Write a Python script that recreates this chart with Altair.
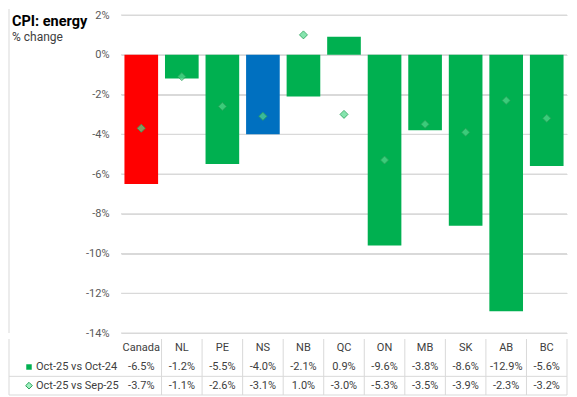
import altair as alt
import pandas as pd

# ---- data -------------------------------------------------------------
title_text = "CPI: energy"
subtitle_text = "% change"
categories = ["Canada", "NL", "PE", "NS", "NB", "QC", "ON", "MB", "SK", "AB", "BC"]
yoy = [-6.5, -1.2, -5.5, -4.0, -2.1, 0.9, -9.6, -3.8, -8.6, -12.9, -5.6]
mom = [-3.7, -1.1, -2.6, -3.1, 1.0, -3.0, -5.3, -3.5, -3.9, -2.3, -3.2]
series_labels = ["Oct-25 vs Oct-24", "Oct-25 vs Sep-25"]
bar_colors = ["#ff0000", "#00b050", "#00b050", "#0070c0", "#00b050", "#00b050",
              "#00b050", "#00b050", "#00b050", "#00b050", "#00b050"]
y_ticks = [-14, -12, -10, -8, -6, -4, -2, 0, 2]

# ---- layout -----------------------------------------------------------
W = 446
H_BAR = 318
H_TAB = 56
LEFT = -112
FONT = "Roboto"
GRID = "#d9d9d9"
TXT = "#404040"
GREEN = "#00b050"

df = pd.DataFrame({"cat": categories, "yoy": yoy, "mom": mom})

xbar = alt.X("cat:N", scale=alt.Scale(domain=categories, paddingInner=0.17, paddingOuter=0.085), axis=None)
yscale_bar = alt.Scale(domain=[y_ticks[0], y_ticks[-1]], nice=False)
yaxis = alt.Axis(values=y_ticks, labelExpr="datum.value + '%'", title=None,
                 grid=True, gridOpacity=1, gridWidth=1, gridColor=GRID, labelOverlap=False,
                 labelFlush=False, ticks=False, domain=False, labelColor="#595959",
                 labelFontSize=11, labelFont=FONT, labelPadding=12)

grid_df = pd.DataFrame({"g": y_ticks})
gridlines = alt.Chart(grid_df).mark_rule(color=GRID, strokeWidth=1).encode(
    y=alt.Y("g:Q", scale=yscale_bar, axis=yaxis))

bars = alt.Chart(df).mark_bar().encode(
    x=xbar, y=alt.Y("yoy:Q", scale=yscale_bar, axis=yaxis),
    color=alt.Color("cat:N", scale=alt.Scale(domain=categories, range=bar_colors), legend=None),
)
points = alt.Chart(df).mark_point(shape="diamond", filled=True, size=64, fill="#52d98c",
                                   fillOpacity=0.7, stroke="#2aa35a", strokeWidth=1,
                                   strokeOpacity=0.8, opacity=1).encode(
    x=xbar, y=alt.Y("mom:Q", scale=yscale_bar, axis=yaxis)
)
tdf = pd.DataFrame({"t": [title_text], "s": [subtitle_text]})
title_mark = alt.Chart(tdf).mark_text(align="left", baseline="alphabetic", font=FONT,
                                      fontSize=14.5, fontWeight="bold", color="#000000").encode(
    text="t:N", x=alt.value(LEFT + 3), y=alt.value(10.5))
sub_mark = alt.Chart(tdf).mark_text(align="left", baseline="alphabetic", font=FONT,
                                    fontSize=12, color="#404040").encode(
    text="s:N", x=alt.value(LEFT + 3), y=alt.value(26))
frame_top = alt.Chart(tdf).mark_rule(color=GRID, strokeWidth=1).encode(
    x=alt.value(LEFT), y=alt.value(-6), y2=alt.value(H_BAR))

top = alt.layer(gridlines, bars, points, title_mark, sub_mark, frame_top).properties(
    width=W, height=H_BAR)

# ---- data table -------------------------------------------------------
rows = []
for i, c in enumerate(categories):
    rows.append({"cat": c, "row": 0.5, "txt": c})
    rows.append({"cat": c, "row": 1.5, "txt": f"{yoy[i]:.1f}%"})
    rows.append({"cat": c, "row": 2.5, "txt": f"{mom[i]:.1f}%"})
tab = pd.DataFrame(rows)

xs_tab = alt.Scale(domain=categories, paddingInner=0, paddingOuter=0)
yscale = alt.Scale(domain=[0, 3], reverse=True, nice=False, zero=False)

cells = alt.Chart(tab).mark_text(font=FONT, fontSize=11, color=TXT, baseline="middle").encode(
    x=alt.X("cat:N", scale=xs_tab, axis=None),
    y=alt.Y("row:Q", scale=yscale, axis=None), text="txt:N")

vdf = pd.DataFrame({"cat": categories, "r0": [0] * len(categories), "r1": [3] * len(categories)})
vlines = alt.Chart(vdf).mark_rule(color=GRID, strokeWidth=1).encode(
    x=alt.X("cat:N", scale=xs_tab, axis=None, bandPosition=1),
    y=alt.Y("r0:Q", scale=yscale, axis=None), y2="r1:Q")

hl = pd.DataFrame({"y": [2, 3]})
hlines = alt.Chart(hl).mark_rule(color=GRID, strokeWidth=1).encode(
    y=alt.Y("y:Q", scale=yscale, axis=None), x=alt.value(LEFT), x2=alt.value(W))
fdf = pd.DataFrame({"r0": [0], "r1": [3]})
frame_tab = alt.Chart(fdf).mark_rule(color=GRID, strokeWidth=1).encode(
    x=alt.value(LEFT), y=alt.Y("r0:Q", scale=yscale, axis=None), y2="r1:Q")

lab = pd.DataFrame({"row": [1.5, 2.5], "lbl": series_labels})
row_labels = alt.Chart(lab).mark_text(align="left", baseline="middle", font=FONT,
                                      fontSize=11, color=TXT).encode(
    x=alt.value(-85), y=alt.Y("row:Q", scale=yscale, axis=None), text="lbl:N")
sym1 = alt.Chart(lab.head(1)).mark_point(shape="square", filled=True, size=30,
                                          color=GREEN, opacity=1).encode(
    x=alt.value(-92), y=alt.Y("row:Q", scale=yscale, axis=None))
sym2 = alt.Chart(lab.tail(1)).mark_point(shape="diamond", filled=True, size=45,
                                          fill="#9ff0c0", stroke="#2aa35a", strokeWidth=1,
                                          opacity=1).encode(
    x=alt.value(-92), y=alt.Y("row:Q", scale=yscale, axis=None))

table = alt.layer(vlines, hlines, frame_tab, cells, row_labels, sym1, sym2).properties(
    width=W, height=H_TAB)

chart = alt.vconcat(top, table, spacing=0).resolve_scale(
    x="independent", y="independent"
).properties(padding=0).configure_view(stroke=None)

chart.save("out.html", embed_options={"renderer": "svg", "actions": False})
